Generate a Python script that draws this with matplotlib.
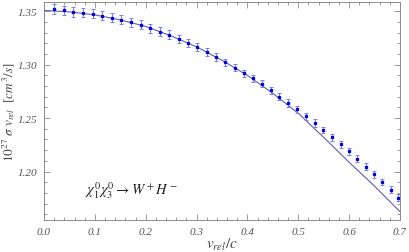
import numpy as np
import matplotlib.pyplot as plt
from matplotlib.ticker import MultipleLocator

plt.rcParams['mathtext.fontset'] = 'stix'
plt.rcParams['font.family'] = ['Liberation Serif', 'DejaVu Serif']

# data points (v_rel/c, 10^27 sigma v, error)
v_pts = [0.0197, 0.0387, 0.0576, 0.0767, 0.0958, 0.1140, 0.1331, 0.1520, 0.1705, 0.1901,
         0.2090, 0.2271, 0.2458, 0.2648, 0.2831, 0.3014, 0.3199, 0.3382, 0.3565, 0.3750,
         0.3926, 0.4103, 0.4280, 0.4457, 0.4626, 0.4803, 0.4974, 0.5151, 0.5323, 0.5492,
         0.5663, 0.5834, 0.5997, 0.6160, 0.6325, 0.6488, 0.6652, 0.6817, 0.6966]
sv_pts = [1.3516, 1.3507, 1.3494, 1.3485, 1.3476, 1.3457, 1.3438, 1.3420, 1.3394, 1.3373,
          1.3338, 1.3308, 1.3280, 1.3242, 1.3205, 1.3161, 1.3117, 1.3070, 1.3021, 1.2971,
          1.2918, 1.2871, 1.2820, 1.2759, 1.2701, 1.2641, 1.2582, 1.2519, 1.2454, 1.2389,
          1.2320, 1.2255, 1.2190, 1.2121, 1.2047, 1.1975, 1.1903, 1.1832, 1.1757]
err = [0.0047, 0.0045, 0.0045, 0.0044, 0.0044, 0.0043, 0.0042, 0.0042, 0.0041, 0.0040,
       0.0040, 0.0039, 0.0039, 0.0038, 0.0038, 0.0037, 0.0037, 0.0036, 0.0036, 0.0035,
       0.0035, 0.0035, 0.0034, 0.0034, 0.0034, 0.0033, 0.0033, 0.0033, 0.0033, 0.0032,
       0.0032, 0.0032, 0.0032, 0.0031, 0.0031, 0.0031, 0.0031, 0.0030, 0.0030]

# theory curve
v_curve = [0.0, 0.05, 0.1, 0.15, 0.2, 0.25, 0.3, 0.35, 0.4, 0.45, 0.5, 0.55, 0.6, 0.65, 0.7]
sv_curve = [1.3507, 1.3493, 1.3465, 1.3418, 1.3357, 1.3268, 1.3166, 1.3040, 1.2899, 1.2731,
            1.2545, 1.2320, 1.2087, 1.1863, 1.1625]

fig = plt.figure(figsize=(4.09, 2.53), dpi=100)
ax = fig.add_axes([0.1076, 0.1277, 0.8704, 0.8603])

ax.plot(v_curve, sv_curve, color='#6060b0', linewidth=0.8)
ax.errorbar(v_pts, sv_pts, yerr=err, fmt='s', color='#0000e0', markersize=1.4,
            ecolor='#7c7cf0', elinewidth=0.7, capsize=1.6, capthick=0.7)

ax.xaxis.set_major_locator(MultipleLocator(0.1))
ax.xaxis.set_minor_locator(MultipleLocator(0.02))
ax.yaxis.set_major_locator(MultipleLocator(0.05))
ax.yaxis.set_minor_locator(MultipleLocator(0.01))
ax.xaxis.set_major_formatter(lambda t, p: f'{t:.1f}')
ax.yaxis.set_major_formatter(lambda t, p: f'{t:.2f}')
ax.set_xlim(0, 0.7)
ax.set_ylim(1.155, 1.3585)

gray = '#8c8c8c'
for s in ax.spines.values():
    s.set_color(gray)
    s.set_linewidth(0.7)
ax.tick_params(which='both', direction='in', top=True, right=True, color=gray, width=0.6)
ax.tick_params(which='major', length=4, labelsize=8, labelcolor='#555555')
ax.tick_params(axis='y', which='major', pad=5)
ax.tick_params(axis='x', which='major', pad=5)
ax.tick_params(which='minor', length=2)

ax.set_xlabel(r'$v_{rel}/c$', fontsize=11, color='#444444')
ax.set_ylabel(r'$10^{27}\ \sigma\ v_{rel}\ \ [cm^3/s]$', fontsize=9.5, color='#444444')
ax.xaxis.set_label_coords(0.5, -0.075)
ax.yaxis.set_label_coords(-0.076, 0.5)
ax.text(0.0815, 1.1835, r'$\chi_1^0\chi_3^0 \rightarrow W^+H^-$', fontsize=10.5, color='#222222',
        va='center', ha='left')

fig.canvas.draw()
for lab in ax.get_xticklabels() + ax.get_yticklabels():
    lab.set_fontstyle('italic')

fig.savefig('out.png', dpi=100)
